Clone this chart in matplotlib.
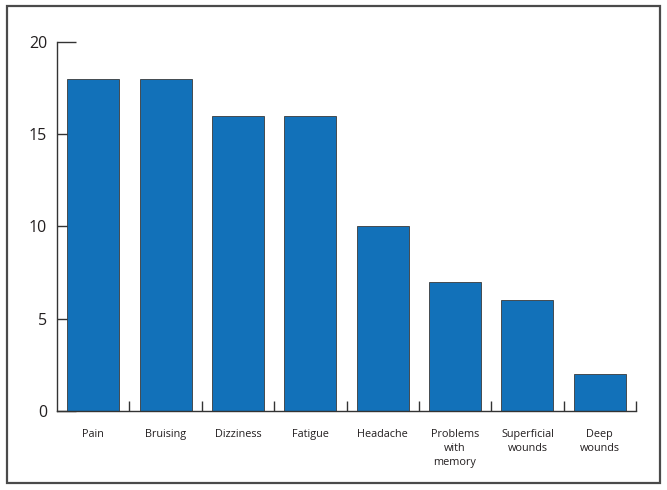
import matplotlib
matplotlib.use("Agg")
import matplotlib.pyplot as plt
from matplotlib.patches import Rectangle

categories = ["Pain", "Bruising", "Dizziness", "Fatigue", "Headache",
              "Problems\nwith\nmemory", "Superficial\nwounds", "Deep\nwounds"]
values = [18, 18, 16, 16, 10, 7, 6, 2]
yticks = [0, 5, 10, 15, 20]

plt.rcParams['font.family'] = ['Open Sans', 'DejaVu Sans']
text_color = "#231f20"

fig = plt.figure(figsize=(6.67, 4.9), dpi=100)
fig.patches.append(Rectangle((7/667, 7/490), 653/667, 477/490, transform=fig.transFigure,
                             fill=False, edgecolor="#4a4a4a", linewidth=1.6))
ax = fig.add_axes([57/667, 79/490, 579/667, 369/490])

x = list(range(len(categories)))
ax.bar(x, values, width=0.72, color="#1271b9", edgecolor="#3a3a3a", linewidth=0.6, zorder=2)
ax.set_xlim(-0.5, len(categories) - 0.5)
ax.set_ylim(0, 20)
ax.set_yticks(yticks)
ax.set_yticklabels([str(v) for v in yticks], fontsize=11.5, color=text_color)
ax.tick_params(axis='y', direction='in', length=14, width=1, color="#333333", pad=7)

ax.set_xticks(x)
ax.set_xticklabels(categories, fontsize=7.8, color=text_color, linespacing=1.4, va='top')
ax.tick_params(axis='x', length=0, pad=13)
ax.set_xticks([i + 0.5 for i in x], minor=True)
ax.tick_params(axis='x', which='minor', direction='in', length=7, width=1, color="#333333")

for s in ['top', 'right']:
    ax.spines[s].set_visible(False)
for s in ['left', 'bottom']:
    ax.spines[s].set_color("#333333")
    ax.spines[s].set_linewidth(1)

fig.savefig("out.png", dpi=100)
